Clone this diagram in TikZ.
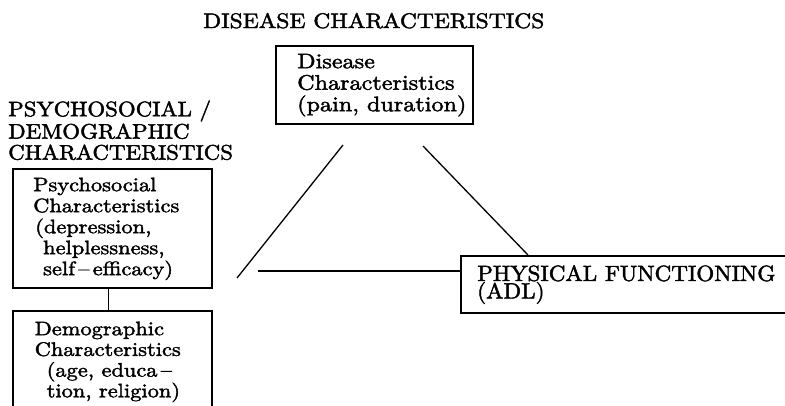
\documentclass[tikz,border=0pt]{standalone}
\usepackage{fontspec}
\newfontfamily\lcfont{lmroman10-regular}[Extension=.otf,FakeStretch=1.15,FakeBold=2]
\newfontfamily\ucfont{lmroman10-regular}[Extension=.otf,FakeStretch=1.09,FakeBold=2]
\newfontfamily\utfont{lmroman10-regular}[Extension=.otf,FakeStretch=1.12,FakeBold=2]
\newfontfamily\upfont{lmroman10-regular}[Extension=.otf,FakeStretch=1.05,FakeBold=2]
\begin{document}
\begin{tikzpicture}[x=1pt,y=-1pt]
\tikzset{
 box/.style={draw, line width=1.5pt, rectangle, inner sep=0pt, anchor=north west},
 txt/.style={anchor=north west, inner sep=0pt, align=left},
 link/.style={line width=1.3pt},
}
\useasboundingbox[fill=white] (0,0) rectangle (785,405);
% boxes
\node[box, minimum width=197pt, minimum height=78pt] (dis) at (275,45) {};
\node[box, minimum width=199pt, minimum height=119pt] (psy) at (12,168) {};
\node[box, minimum width=199pt, minimum height=100pt] (dem) at (12,310) {};
\node[box, minimum width=340pt, minimum height=57pt] (phys) at (460,255) {};
% texts
\node[anchor=base west, inner sep=0pt, font={\utfont\fontsize{21}{25}\selectfont}] (distitle) at (203,28) {DISEASE CHARACTERISTICS};
\node[txt, font={\ucfont\fontsize{21}{21}\selectfont}] (psylab) at (8,100.3) {\strut PSYCHOSOCIAL /\\DEMOGRAPHIC\\CHARACTERISTICS};
\node[txt, font={\lcfont\fontsize{21}{21.5}\selectfont}] (distxt) at (297,52.95) {\strut Disease\\Characteristics\\(pain, duration)};
\node[txt, font={\lcfont\fontsize{19.5}{21}\selectfont}] (psytxt) at (33,176.3) {\strut Psychosocial\\Characteristics\\\hspace*{2pt}(depression,\\\hspace*{10pt}helplessness,\\\hspace*{10pt}self\,–\,efficacy)};
\node[txt, font={\lcfont\fontsize{19.5}{20.7}\selectfont}] (demtxt) at (34.5,320.5) {\strut Demographic\\Characteristics\\\hspace*{12pt}(age, educa\,–\\\hspace*{12pt}tion, religion)};
\node[txt, font={\upfont\fontsize{22}{17.5}\selectfont\lineskiplimit=-30pt}] (phystxt) at (477,265) {PHYSICAL FUNCTIONING\\(ADL)};
% connectors
\coordinate (l1) at (343,145);
\coordinate (l2) at (237,278);
\coordinate (r1) at (423,146);
\coordinate (r2) at (528,255);
\coordinate (h1) at (258,271);
\draw[link] (l1) -- (l2);
\draw[link] (r1) -- (r2);
\draw[link] (h1) -- (h1 -| phys.west);
\draw[link] ([xshift=-3.5pt]psy.south) -- ([xshift=-3.5pt]dem.north);
\end{tikzpicture}
\end{document}
